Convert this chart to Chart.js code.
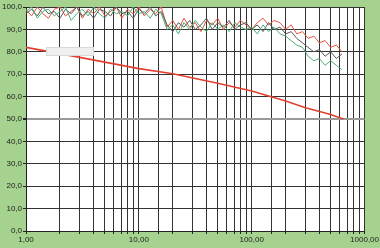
<!DOCTYPE html>
<html><head><meta charset="utf-8">
<script src="https://cdn.jsdelivr.net/npm/chart.js@4.4.1/dist/chart.umd.min.js"></script>
<style>html,body{margin:0;padding:0;background:#a5d38f;}#w{width:380px;height:248px;}</style>
</head><body><div id="w"><canvas id="c" width="380" height="248"></canvas></div>
<script>
const xValues = [1.00,1.12,1.26,1.41,1.58,1.78,2.00,2.24,2.51,2.82,3.16,3.55,3.98,4.47,5.01,5.62,6.31,7.08,7.94,8.91,
  10,11.2,12.6,14.1,15.8,17.8,20,22.4,25.1,28.2,31.6,35.5,39.8,44.7,50.1,56.2,63.1,70.8,79.4,89.1,
  100,112,126,141,158,178,200,224,251,282,316,355,398,447,501,562,631];
const redNoisy = [99,96,100,97,95,99,100,96,98,100,95,99,97,100,96,98,100,95,99,97,
  100,96,99,97,100,91,94,90,95,91,93,89,94,92,95,90,93,91,94,92,
  90,93,95,92,94,93,90,92,88,89,86,87,84,85,82,83,80];
const greenNoisy = [98,100,95,98,99,96,98,100,94,97,99,96,100,97,95,99,97,98,96,100,
  97,98,95,99,97,90,92,88,93,90,94,91,89,93,90,92,89,93,91,90,
  91,88,92,89,91,88,87,85,83,82,78,76,77,74,76,74,72];
const greyNoisy = [97,99,96,100,97,98,95,99,97,100,96,98,95,99,98,96,100,97,98,95,
  99,97,100,96,98,92,89,93,91,94,90,92,95,90,93,91,94,90,92,93,
  90,92,89,93,90,91,88,89,86,84,82,80,81,78,80,77,79];
const trendX = [1,2,5,10,20,50,100,200,300,500,650];
const trendY = [82,79.2,75.4,72.5,70.2,66,62.5,58,55,52,50];
const xTickLabels = [1,10,100,1000];
const yMin = 0, yMax = 100;

const pts = (xs, ys) => xs.map((x,i)=>({x:x,y:ys[i]}));
const boxPlugin = {
  id:'box',
  afterDatasetsDraw(chart){
    const c = chart.ctx;
    c.save();
    c.fillStyle = '#efefef';
    c.fillRect(46,47,48,9);
    c.strokeStyle = '#d8d8d8';
    c.lineWidth = 1;
    c.strokeRect(46.5,47.5,47,8);
    c.restore();
  }
};
const greyLines = [85,50,35,15];
new Chart(document.getElementById('c'), {
  type:'line',
  data:{datasets:[
    {data:pts(xValues,greenNoisy), borderColor:'#4fae78', borderWidth:1, pointRadius:0, tension:0},
    {data:pts(xValues,greyNoisy), borderColor:'#5a5a5a', borderWidth:1, pointRadius:0, tension:0},
    {data:pts(xValues,redNoisy), borderColor:'#e5553f', borderWidth:1, pointRadius:0, tension:0},
    {data:pts(trendX,trendY), borderColor:'#e2402f', borderWidth:1.6, pointRadius:0, tension:0}
  ]},
  options:{
    responsive:false, animation:false,
    layout:{padding:{top:7,right:15,left:0,bottom:0}},
    plugins:{legend:{display:false}, tooltip:{enabled:false}},
    scales:{
      x:{type:'logarithmic', min:1, max:1000,
        border:{color:'#222', width:1},
        grid:{color:'#333', lineWidth:1, tickLength:3, tickColor:'#222'},
        afterFit(s){ s.height = 17; },
        ticks:{autoSkip:false, maxRotation:0, padding:1, color:'#222', font:{family:'Liberation Sans', size:8},
          callback:(v)=> xTickLabels.includes(v) ? v.toFixed(2).replace('.',',') : ''}
      },
      y:{min:yMin, max:yMax,
        border:{color:'#222', width:1},
        afterFit(s){ s.width = 26; },
        grid:{
          color:(c)=> greyLines.includes(c.tick.value) ? '#9a9a9a' : '#333',
          lineWidth:(c)=> greyLines.includes(c.tick.value) ? 2 : 1,
          tickLength:3,
          tickColor:(c)=> c.tick.value % 10 === 0 ? '#222' : 'rgba(0,0,0,0)'
        },
        ticks:{stepSize:5, padding:1, color:'#222', font:{family:'Liberation Sans', size:8},
          callback:(v)=> v % 10 === 0 ? v.toFixed(1).replace('.',',') : ''}
      }
    }
  },
  plugins:[boxPlugin, {id:'bg', beforeDraw(chart){const a=chart.chartArea, c=chart.ctx; c.save(); c.fillStyle='#ffffff'; c.fillRect(a.left,a.top,a.right-a.left,a.bottom-a.top); c.restore();}}]
});
</script></body></html>
